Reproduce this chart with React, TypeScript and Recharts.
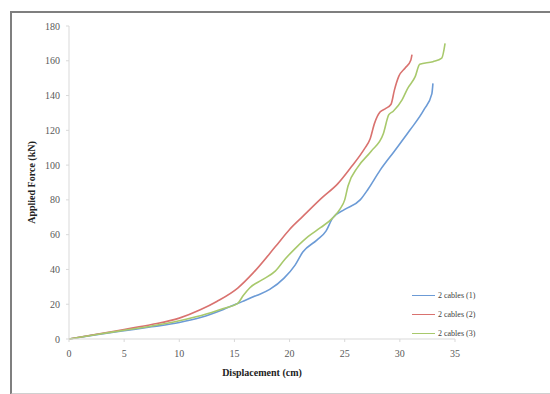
import React from 'react';
import { LineChart, Line, XAxis, YAxis, Label } from 'recharts';

// displacement (cm) / applied force (kN) readings for each test
const cable1Disp = [0, 2.5, 5, 7.5, 10, 12, 14, 15.7, 17, 18.2, 19.5, 20.5, 21.2, 22.5, 23.3, 23.9, 25, 26.4, 27.1, 28.2, 29.5, 30.9, 32.2, 32.9, 33.0];
const cable1Force = [0, 2.5, 4.8, 7, 9.5, 12.5, 17, 21.5, 25, 28.5, 35, 42.5, 50, 57, 62, 69.5, 74.5, 80, 86, 97, 108, 120, 132, 141, 147];

const cable2Disp = [0, 2.5, 5, 7.5, 10, 11.9, 13.4, 15.3, 16.7, 18.7, 20, 21.2, 22.9, 24.4, 25.6, 26.8, 27.3, 27.7, 28.2, 28.7, 29.2, 29.5, 29.9, 30.5, 31.0, 31.1];
const cable2Force = [0, 2.7, 5.5, 8.3, 12, 16.8, 21.6, 29.3, 38, 53, 63, 70.5, 81, 89.5, 99, 109.5, 115, 124, 130.5, 132.5, 135, 143, 151, 156, 160.5, 163.5];

const cable3Disp = [0, 2.5, 5, 7.5, 10, 12, 14, 15.3, 15.8, 16.4, 17.5, 18.7, 19.6, 20.5, 21.7, 22.8, 23.9, 24.6, 25, 25.3, 26.2, 27.4, 28.5, 29, 29.4, 30.2, 30.7, 31.4, 31.8, 33, 33.8, 34.1];
const cable3Force = [0, 2.6, 5, 7.5, 10.5, 13.5, 17.5, 20.5, 25, 29.5, 34, 39, 46, 52, 59, 64, 69.5, 75, 80, 88, 99, 108, 118, 129, 131, 137.5, 144, 151, 158, 159.5, 161.5, 170];

const xTicks = [0, 5, 10, 15, 20, 25, 30, 35];
const yTicks = [0, 20, 40, 60, 80, 100, 120, 140, 160, 180];

const toPoints = (xs: number[], ys: number[]) => xs.map((x, i) => ({ x, y: ys[i] }));

const series = [
  { name: '2 cables (1)', color: '#6c9bd6', data: toPoints(cable1Disp, cable1Force) },
  { name: '2 cables (2)', color: '#d9726f', data: toPoints(cable2Disp, cable2Force) },
  { name: '2 cables (3)', color: '#a8c96c', data: toPoints(cable3Disp, cable3Force) },
];

const FONT = '"Liberation Serif", "Times New Roman", serif';
const tickStyle = { fontFamily: FONT, fontSize: 10, fill: '#595959' };

const LegendBox = () => (
  <div style={{ position: 'absolute', left: 412, top: 286, fontFamily: FONT, fontSize: 8, color: '#404040' }}>
    {series.map((s) => (
      <div key={s.name} style={{ display: 'flex', alignItems: 'center', height: 19 }}>
        <span style={{ display: 'inline-block', width: 23, height: 0, borderTop: `1.6px solid ${s.color}`, marginRight: 3 }} />
        <span>{s.name}</span>
      </div>
    ))}
  </div>
);

export default function App() {
  return (
    <div style={{ position: 'absolute', left: 0, top: 0, width: 550, height: 394, background: '#fff', overflow: 'hidden', fontFamily: FONT }}>
      <div
        style={{
          position: 'absolute',
          left: 10,
          top: 11,
          width: 560,
          height: 380,
          borderLeft: '2px solid #7f7f7f',
          borderTop: '2px solid #7f7f7f',
          borderBottom: '2px solid #d0d0d0',
        }}
      />
      <LineChart
        width={550}
        height={394}
        margin={{ top: 26, right: 95, bottom: 25, left: 29 }}
        style={{ position: 'absolute', left: 0, top: 0, fontFamily: FONT }}
      >
        <XAxis
          dataKey="x"
          type="number"
          domain={[0, 35]}
          ticks={xTicks}
          height={30}
          allowDuplicatedCategory={false}
          stroke="#d9d9d9"
          tickSize={3}
          tickMargin={8}
          tick={tickStyle}
          fontFamily={FONT}
        >
          <Label
            content={({ viewBox }: any) => (
              <text
                x={viewBox.x + viewBox.width / 2}
                y={viewBox.y + 37}
                textAnchor="middle"
                fontFamily={FONT}
                fontSize={10}
                fontWeight="bold"
                fill="#222"
              >
                Displacement (cm)
              </text>
            )}
          />
        </XAxis>
        <YAxis
          type="number"
          domain={[0, 180]}
          ticks={yTicks}
          width={40}
          stroke="#d9d9d9"
          tickSize={3}
          tickMargin={6}
          tick={tickStyle}
          fontFamily={FONT}
        >
          <Label
            content={({ viewBox }: any) => {
              const cx = viewBox.x + 6;
              const cy = viewBox.y + viewBox.height / 2;
              return (
                <text
                  x={cx}
                  y={cy}
                  transform={`rotate(-90 ${cx} ${cy})`}
                  textAnchor="middle"
                  fontFamily={FONT}
                  fontSize={10}
                  fontWeight="bold"
                  fill="#222"
                >
                  Applied Force (kN)
                </text>
              );
            }}
          />
        </YAxis>
        {series.map((s) => (
          <Line
            key={s.name}
            data={s.data}
            dataKey="y"
            name={s.name}
            type="monotone"
            stroke={s.color}
            strokeWidth={1.6}
            dot={false}
            isAnimationActive={false}
          />
        ))}
      </LineChart>
      <LegendBox />
    </div>
  );
}
